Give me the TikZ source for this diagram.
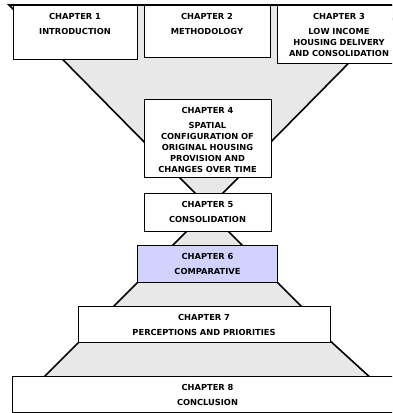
\documentclass[tikz,border=0pt]{standalone}
\usepackage{fontspec}
\setmainfont{DejaVu Sans}
\usetikzlibrary{positioning}
\definecolor{lilac}{RGB}{210,210,255}

\begin{document}
\begin{tikzpicture}[x=1pt, y=-1pt,
    chapter/.style={rectangle, draw, fill=white, line width=0.7pt, align=center, inner xsep=0pt, inner ysep=0pt, outer sep=0pt, text height=14pt, anchor=north, font=\fontsize{8.3}{11}\selectfont\bfseries},
    focus/.style={chapter, fill=lilac},
    funnel/.style={fill=gray!18},
    side/.style={draw, line width=1.6pt}]

    \clip (0,0) rectangle (392,413);

    % funnels between the chapters
    \path [funnel] (9,5) -- (406,5) -- (263,150) -- (152,150) -- cycle;
    \path [side] (152,150) -- (9,5) -- (406,5) -- (263,150);
    \path [funnel] (173,171) -- (245,171) -- (218,198) -- (200,198) -- cycle;
    \path [side] (173,171) -- (200,198) (245,171) -- (218,198);
    \path [funnel] (192,226) -- (223,226) -- (247,250) -- (168,250) -- cycle;
    \path [side] (192,226) -- (168,250) (223,226) -- (247,250);
    \path [funnel] (142,278) -- (273,278) -- (305,310) -- (110,310) -- cycle;
    \path [side] (142,278) -- (110,310) (273,278) -- (305,310);
    \path [funnel] (83,338) -- (327,338) -- (373,380) -- (41,380) -- cycle;
    \path [side] (83,338) -- (41,380) (327,338) -- (373,380);

    \node [chapter, text width=124pt, text depth=40pt] (ch1) at (75,5) {CHAPTER 1\\[4.5pt]INTRODUCTION};
    \node [chapter, text width=126pt, text depth=38pt] (ch2) at (207,5) {CHAPTER 2\\[4.5pt]METHODOLOGY};
    \node [chapter, text width=124pt, text depth=44pt] (ch3) at (339,5) {CHAPTER 3\\[4.5pt]LOW INCOME\\HOUSING DELIVERY\\AND CONSOLIDATION};
    \node [chapter, text width=127pt, text depth=64pt] (ch4) at (207.5,99) {CHAPTER 4\\[4.5pt]SPATIAL\\CONFIGURATION OF\\ORIGINAL HOUSING\\PROVISION AND\\CHANGES OVER TIME};
    \node [chapter, text width=127pt, text depth=24pt, below=16pt of ch4] (ch5) {CHAPTER 5\\[4.5pt]CONSOLIDATION};
    \node [focus, text width=140pt, text depth=23pt, below=14pt of ch5] (ch6) {CHAPTER 6\\[4.5pt]COMPARATIVE};
    \node [chapter, text width=252pt, text depth=22pt, below=24pt of ch6, xshift=-3.5pt] (ch7) {CHAPTER 7\\[4.5pt]PERCEPTIONS AND PRIORITIES};
    \node [chapter, text width=391pt, text depth=22pt, below=34pt of ch7, xshift=3.5pt] (ch8) {CHAPTER 8\\[4.5pt]CONCLUSION};
\end{tikzpicture}
\end{document}
